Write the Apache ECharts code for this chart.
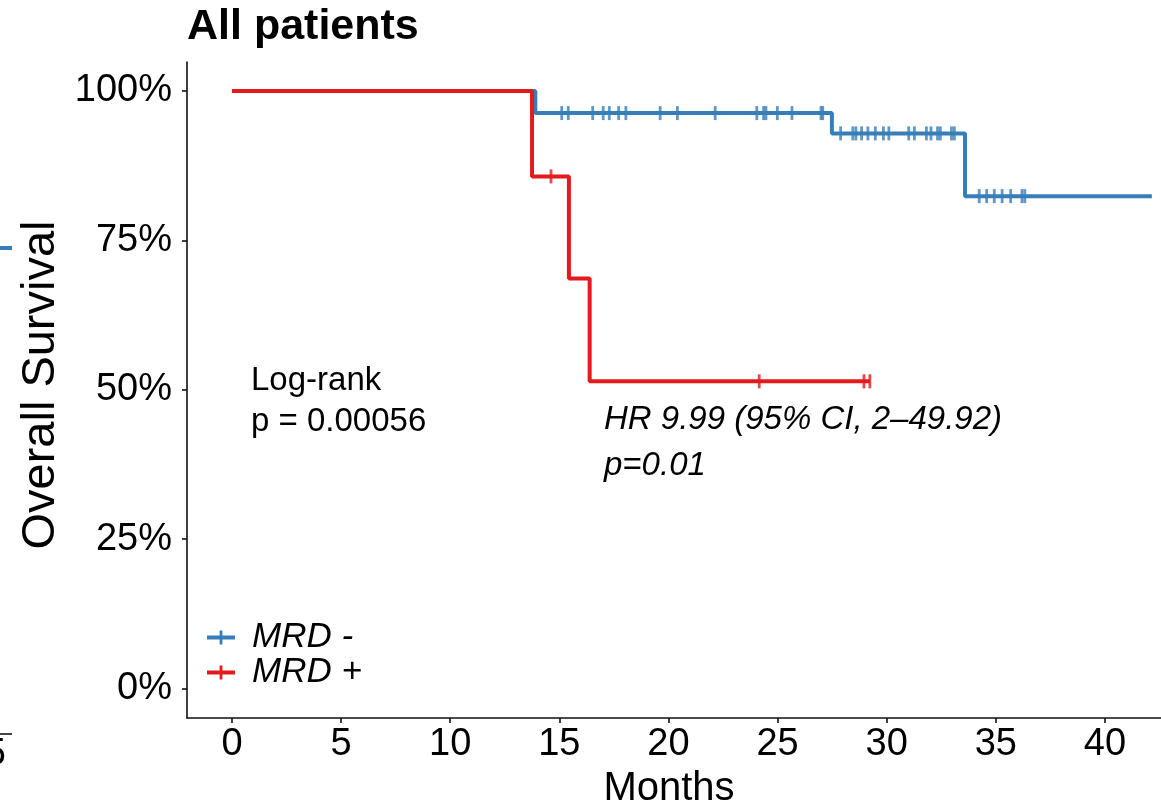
<!DOCTYPE html>
<html>
<head>
<meta charset="utf-8">
<title>All patients</title>
<script src="https://cdn.jsdelivr.net/npm/echarts@6/dist/echarts.min.js"></script>
<style>
  html, body { margin: 0; padding: 0; background: #fff; }
  #chart { width: 1161px; height: 808px; }
</style>
</head>
<body>
<div id="chart"></div>
<script>
// Kaplan-Meier steps (months, survival %)
const xTicks = [0, 5, 10, 15, 20, 25, 30, 35, 40];
const yTicks = [0, 25, 50, 75, 100];

const negTimes = [0, 13.9, 27.49, 33.59, 42.15];
const negSurv = [100, 96.3, 92.9, 82.4, 82.4];
const negCensor = [15.11, 15.41, 16.53, 17.01, 17.29, 17.72, 18.05, 19.62, 20.41, 22.14,
  24.05, 24.36, 24.47, 24.99, 25.66, 26.99, 27.07,
  27.89, 28.45, 28.59, 28.85, 29.14, 29.48, 29.85, 30.10, 31.01, 31.27, 31.82, 32.03,
  32.33, 32.46, 32.97, 33.10,
  34.24, 34.58, 34.93, 35.29, 35.68, 36.20, 36.33];

const posTimes = [0, 13.75, 15.44, 16.39, 29.23];
const posSurv = [100, 85.7, 68.6, 51.4, 51.4];
const posCensor = [14.62, 24.16, 28.96, 29.23];

const BLUE = '#377EB8';
const RED = '#E41A1C';
const FONT = 'Liberation Sans, Arial, sans-serif';

// survival level of a step curve at time t
function levelAt(times, surv, t) {
  let v = surv[0];
  for (let i = 0; i < times.length; i++) {
    if (times[i] <= t) v = surv[i];
  }
  return v;
}

function stepSeries(name, times, surv, color, z) {
  return {
    name: name,
    type: 'line',
    step: 'end',
    data: times.map((t, i) => [t, surv[i]]),
    showSymbol: false,
    symbol: 'none',
    color: color,
    lineStyle: { color: color, width: 4 },
    z: z
  };
}

function censorSeries(name, times, surv, censor, color, z) {
  return {
    name: name,
    type: 'scatter',
    data: censor.map(t => [t, levelAt(times, surv, t)]),
    symbol: 'rect',
    symbolSize: [2.8, 14],
    color: color,
    itemStyle: { color: color },
    z: z
  };
}

const plusIcon = 'path://M0,5 L28,5 L28,9 L0,9 Z M12.6,0 L15.4,0 L15.4,14 L12.6,14 Z';

const chart = echarts.init(document.getElementById('chart'));
chart.setOption({
  animation: false,
  backgroundColor: '#fff',
  textStyle: { fontFamily: FONT },
  grid: { left: 187, right: 0, top: 62, bottom: 90 },
  xAxis: {
    type: 'value',
    min: -2.06,
    max: 42.57,
    splitLine: { show: false },
    axisLine: { onZero: false, lineStyle: { color: '#111', width: 1.6 } },
    axisTick: { customValues: xTicks, length: 5, lineStyle: { color: '#111', width: 1.6 } },
    axisLabel: {
      customValues: xTicks, margin: 8,
      color: '#000', fontSize: 38, fontFamily: FONT
    }
  },
  yAxis: {
    type: 'value',
    min: -4.95,
    max: 104.85,
    splitLine: { show: false },
    axisLine: { show: true, onZero: false, lineStyle: { color: '#111', width: 1.6 } },
    axisTick: { show: true, customValues: yTicks, length: 5, lineStyle: { color: '#111', width: 1.6 } },
    axisLabel: {
      customValues: yTicks, margin: 15,
      color: '#000', fontSize: 38, fontFamily: FONT,
      formatter: v => v + '%'
    }
  },
  legend: {
    orient: 'vertical',
    left: 207,
    top: 620,
    padding: 0,
    itemGap: 0,
    itemWidth: 28,
    itemHeight: 14,
    textStyle: { fontSize: 35, fontStyle: 'italic', color: '#000', fontFamily: FONT, lineHeight: 34, padding: [0, 0, 0, 12] },
    data: [
      { name: 'MRD -', icon: plusIcon },
      { name: 'MRD +', icon: plusIcon }
    ]
  },
  graphic: [
    { type: 'text', left: 187, top: 6, style: { text: 'All patients', font: 'bold 43px ' + FONT, fill: '#000' } },
    { type: 'text', x: 41.5, y: 385, rotation: Math.PI / 2,
      style: { text: 'Overall Survival', font: '47px ' + FONT, fill: '#000', align: 'center', verticalAlign: 'middle' } },
    { type: 'text', x: 669, y: 789,
      style: { text: 'Months', font: '40px ' + FONT, fill: '#000', align: 'center', verticalAlign: 'middle' } },
    { type: 'text', x: 251, y: 381,
      style: { text: 'Log-rank', font: '33px ' + FONT, fill: '#000', verticalAlign: 'middle' } },
    { type: 'text', x: 251, y: 422,
      style: { text: 'p = 0.00056', font: '33px ' + FONT, fill: '#000', verticalAlign: 'middle' } },
    { type: 'text', x: 604, y: 420,
      style: { text: 'HR 9.99 (95% CI, 2\u201349.92)', font: 'italic 33px ' + FONT, fill: '#000', verticalAlign: 'middle' } },
    { type: 'text', x: 604, y: 466,
      style: { text: 'p=0.01', font: 'italic 33px ' + FONT, fill: '#000', verticalAlign: 'middle' } },
    // bits of the neighbouring panel left at the crop edge
    { type: 'line', shape: { x1: 0, y1: 248, x2: 12, y2: 248 }, style: { stroke: BLUE, lineWidth: 4 } },
    { type: 'line', shape: { x1: 0, y1: 734, x2: 12, y2: 734 }, style: { stroke: '#111', lineWidth: 1.6 } },
    { type: 'text', x: 6, y: 755,
      style: { text: '5', font: '38px ' + FONT, fill: '#000', align: 'right', verticalAlign: 'middle' } }
  ],
  series: [
    stepSeries('MRD -', negTimes, negSurv, BLUE, 2),
    censorSeries('MRD -', negTimes, negSurv, negCensor, BLUE, 3),
    stepSeries('MRD +', posTimes, posSurv, RED, 4),
    censorSeries('MRD +', posTimes, posSurv, posCensor, RED, 5)
  ]
});
</script>
</body>
</html>
